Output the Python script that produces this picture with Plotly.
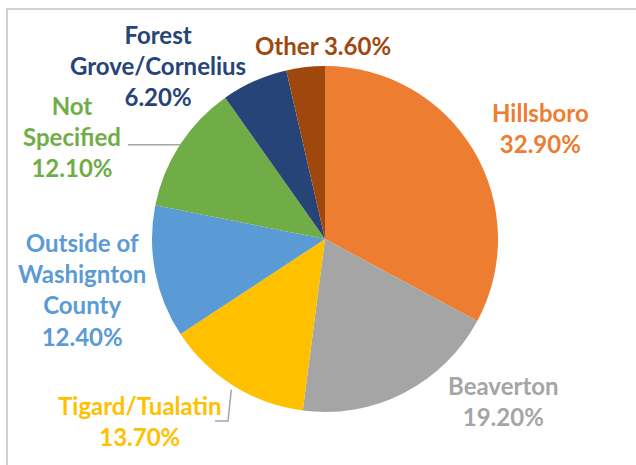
import math
import plotly.graph_objects as go

# data
labels = ["Hillsboro", "Beaverton", "Tigard/Tualatin", "Outside of Washington County",
          "Not Specified", "Forest Grove/Cornelius", "Other"]
text_labels = ["Hillsboro", "Beaverton", "Tigard/Tualatin", "Outside of<br>Washignton<br>County",
               "Not<br>Specified", "Forest<br>Grove/Cornelius", "Other"]
values = [32.9, 19.2, 13.7, 12.4, 12.1, 6.2, 3.6]
colors = ["#ED7D31", "#A5A5A5", "#FFC000", "#5B9BD5", "#70AD47", "#264478", "#9E480E"]

W, H = 636, 465
cx, cy, r = 325, 239, 173

# label centres in pixels
label_pos = [(540, 128), (503, 401), (140, 421), (82, 289), (72, 136), (158, 65), (323, 46)]


def px(x, y):
    return x / W, 1 - y / H


fig = go.Figure(go.Pie(
    labels=labels, values=values, sort=False, direction="clockwise", rotation=0,
    marker=dict(colors=colors, line=dict(width=0)),
    textinfo="none", hoverinfo="label+percent", showlegend=False,
    domain=dict(x=[(cx - r) / W, (cx + r) / W], y=[1 - (cy + r) / H, 1 - (cy - r) / H]),
))

for i, lab in enumerate(text_labels):
    sep = " " if lab == "Other" else "<br>"
    x, y = px(*label_pos[i])
    fig.add_annotation(x=x, y=y, xref="paper", yref="paper", showarrow=False,
                       xanchor="center", yanchor="middle",
                       text=f"{lab}{sep}{values[i]:.2f}%", align="center",
                       font=dict(family="Lato", size=24, color=colors[i], weight="bold"))

# leader lines from slice mid-angle on the edge
total = sum(values)
cum = 0
mids = []
for v in values:
    mids.append((cum + v / 2) / total * 2 * math.pi)
    cum += v


def edge(i):
    a = mids[i]
    return cx + r * math.sin(a), cy - r * math.cos(a)


ex, ey = edge(4)
x0, y0 = px(ex, ey)
x1, y1 = px(128, ey)
fig.add_shape(type="line", xref="paper", yref="paper", x0=x0, y0=y0, x1=x1, y1=y1,
              line=dict(color="#A6A6A6", width=1.5))
ex, ey = edge(2)
pts = [px(ex - 2, ey + 4), px(228, 421), px(215, 421)]
fig.add_shape(type="path", xref="paper", yref="paper",
              path="M {} {} L {} {} L {} {}".format(*[c for p in pts for c in p]),
              line=dict(color="#A6A6A6", width=1.5))

# chart frame
fig.add_shape(type="rect", xref="paper", yref="paper", x0=7 / W, y0=-0.05, x1=1.05, y1=1 - 9 / H,
              line=dict(color="#D0D0D0", width=2), fillcolor="rgba(0,0,0,0)")

fig.update_layout(width=W, height=H, margin=dict(l=0, r=0, t=0, b=0),
                  paper_bgcolor="white", plot_bgcolor="white")
fig.write_html("out.html", config={"displayModeBar": False},
               post_script="document.body.style.margin='0';")
